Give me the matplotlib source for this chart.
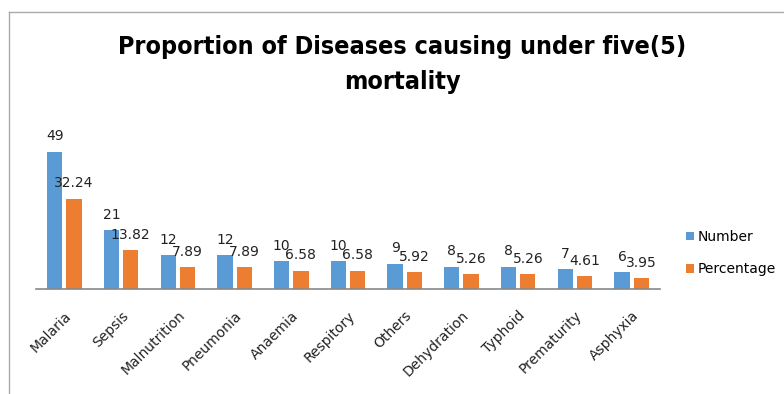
import matplotlib
matplotlib.use("Agg")
import matplotlib.pyplot as plt
from matplotlib.lines import Line2D
import numpy as np

categories = ["Malaria", "Sepsis", "Malnutrition", "Pneumonia", "Anaemia", "Respitory",
              "Others", "Dehydration", "Typhoid", "Prematurity", "Asphyxia"]
number = [49, 21, 12, 12, 10, 10, 9, 8, 8, 7, 6]
percentage = [32.24, 13.82, 7.89, 7.89, 6.58, 6.58, 5.92, 5.26, 5.26, 4.61, 3.95]
number_labels = ["49", "21", "12", "12", "10", "10", "9", "8", "8", "7", "6"]
percentage_labels = ["32.24", "13.82", "7.89", "7.89", "6.58", "6.58", "5.92", "5.26", "5.26", "4.61", "3.95"]

BLUE = "#5B9BD5"
ORANGE = "#ED7D31"

plt.rcParams['font.family'] = ['DejaVu Sans']

fig = plt.figure(figsize=(7.84, 3.94), dpi=100)
ax = fig.add_axes([36/784, 1-289/394, 624/784, 168/394])

x = np.arange(len(categories))
w = 0.27
off = 0.17
b1 = ax.bar(x - off, number, w, color=BLUE, label="Number")
b2 = ax.bar(x + off, percentage, w, color=ORANGE, label="Percentage")

for xi, v, s in zip(x, number, number_labels):
    ax.annotate(s, (xi - off, v), xytext=(0, 6), textcoords="offset points",
                ha="center", va="bottom", fontsize=10, color="#222222")
for xi, v, s in zip(x, percentage, percentage_labels):
    ax.annotate(s, (xi + off, v), xytext=(0, 6), textcoords="offset points",
                ha="center", va="bottom", fontsize=10, color="#222222")

ax.set_xlim(-0.5, len(categories) - 0.5)
ax.set_ylim(0, 60)
ax.set_yticks([])
ax.set_xticks(x)
ax.set_xticklabels(categories, rotation=45, ha="right", rotation_mode="anchor",
                   fontsize=10, color="#222222")
ax.tick_params(axis="x", length=0, pad=14)
for sp in ["top", "right", "left"]:
    ax.spines[sp].set_visible(False)
ax.spines["bottom"].set_color("#888888")
ax.spines["bottom"].set_linewidth(1.2)

fig.text(402/784, 1-47/394, "Proportion of Diseases causing under five(5)",
         ha="center", va="center", fontsize=18, fontweight="bold", fontstretch="condensed")
fig.text(402/784, 1-82/394, "mortality",
         ha="center", va="center", fontsize=18, fontweight="bold", fontstretch="condensed")

fig.legend(handles=[b1, b2], loc="center left", bbox_to_anchor=(686/784, 1-253/394),
           frameon=False, fontsize=10, handlelength=0.6, handleheight=0.6,
           handletextpad=0.25, labelspacing=1.3, borderpad=0, borderaxespad=0)

fig.add_artist(Line2D([9/784, 9/784], [0, 1-12/394], transform=fig.transFigure,
                      color="#AAAAAA", linewidth=1))
fig.add_artist(Line2D([9/784, 1], [1-12/394, 1-12/394], transform=fig.transFigure,
                      color="#AAAAAA", linewidth=1))

fig.savefig("out.png", dpi=100)
